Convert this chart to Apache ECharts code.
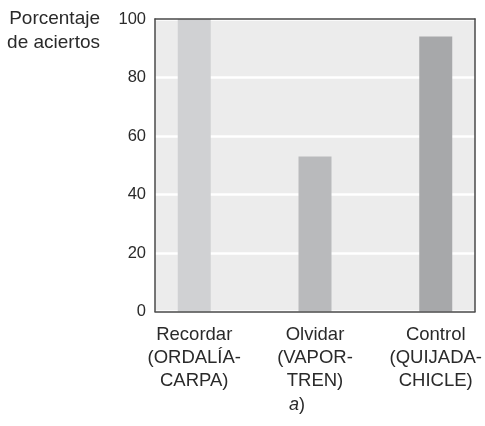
<!DOCTYPE html>
<html><head><meta charset="utf-8">
<script src="https://cdn.jsdelivr.net/npm/echarts@6/dist/echarts.min.js"></script>
<style>html,body{margin:0;padding:0;background:#fff}#c{width:485px;height:426px}</style>
</head><body><div id="c"></div>
<script>
const categories = ['Recordar\n(ORDALÍA-\nCARPA)', 'Olvidar\n(VAPOR-\nTREN)', 'Control\n(QUIJADA-\nCHICLE)'];
const values = [100, 53, 94];
const barColors = ['#d0d1d3', '#b9babc', '#a7a8aa'];
const yTicks = [0, 20, 40, 60, 80, 100];
const yTitle = 'Porcentaje\nde aciertos';
const panelLabel = 'a';

const FONT = '"Liberation Sans", Arial, sans-serif';
const chart = echarts.init(document.getElementById('c'));
const xRange = {min: -0.325, max: 2.325};
const yRange = {min: yTicks[0], max: yTicks[yTicks.length - 1], interval: 20};
const borderLine = {show: true, onZero: false, lineStyle: {color: '#4a4a4a', width: 1.5}};
chart.setOption({
  animation: false,
  grid: {left: 155, right: 8, top: 19, bottom: 114.5, show: true, backgroundColor: '#ececec', borderWidth: 0},
  xAxis: [
    Object.assign({type: 'value', position: 'bottom', z: 10,
      axisLine: borderLine, axisTick: {show: false}, splitLine: {show: false},
      axisLabel: {customValues: [0, 1, 2], formatter: v => categories[Math.round(v)] || '',
        color: '#2a2a2a', fontFamily: FONT, fontSize: 18.5, lineHeight: 23, margin: 12, align: 'center'}}, xRange),
    Object.assign({type: 'value', position: 'top', z: 10,
      axisLine: borderLine, axisTick: {show: false}, splitLine: {show: false}, axisLabel: {show: false}}, xRange)
  ],
  yAxis: [
    Object.assign({type: 'value', position: 'left', z: 0,
      axisLine: {show: false, onZero: false}, axisTick: {show: false},
      splitLine: {show: true, lineStyle: {color: '#ffffff', width: 2.5}},
      axisLabel: {color: '#2a2a2a', fontFamily: FONT, fontSize: 16.5, margin: 9}}, yRange),
    Object.assign({type: 'value', position: 'left', z: 10,
      axisLine: borderLine, axisTick: {show: false}, splitLine: {show: false}, axisLabel: {show: false}}, yRange),
    Object.assign({type: 'value', position: 'right', z: 10,
      axisLine: borderLine, axisTick: {show: false}, splitLine: {show: false}, axisLabel: {show: false}}, yRange)
  ],
  series: [{
    type: 'bar', xAxisIndex: 0, yAxisIndex: 0, barWidth: 33,
    data: values.map((v, i) => ({value: [i, v], itemStyle: {color: barColors[i]}}))
  }],
  graphic: [
    {type: 'text', x: 100, y: 7, style: {text: yTitle, align: 'right', verticalAlign: 'top',
      font: '19px ' + FONT, lineHeight: 24, fill: '#2a2a2a'}},
    {type: 'text', x: 297, y: 405, style: {text: '{i|' + panelLabel + '})', align: 'center', verticalAlign: 'middle',
      fill: '#2a2a2a', font: '18px ' + FONT,
      rich: {i: {fontStyle: 'italic', fontSize: 18, fontFamily: FONT, fill: '#2a2a2a'}}}}
  ]
});
</script></body></html>
